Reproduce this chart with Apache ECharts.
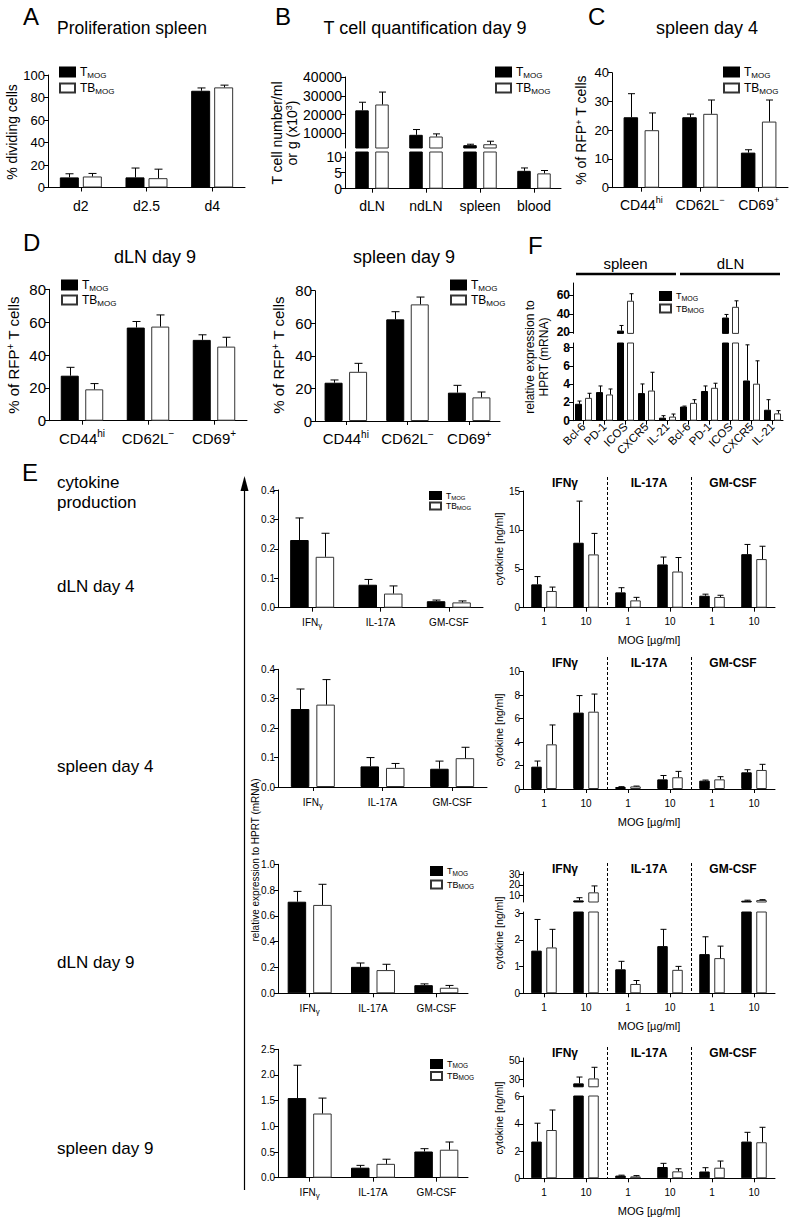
<!DOCTYPE html>
<html><head><meta charset="utf-8">
<script src="https://cdn.jsdelivr.net/npm/echarts@6/dist/echarts.min.js"></script>
<style>html,body{margin:0;padding:0;background:#fff}#c{width:789px;height:1219px}</style>
</head><body><div id="c"></div>
<script>
// ================= DATA =================
const A_categories = ['d2', 'd2.5', 'd4'];
const A_tmog = [9, 9, 86];
const A_tmog_err = [3.2, 8.3, 2.5];
const A_tbmog = [9.8, 8.3, 89];
const A_tbmog_err = [2.7, 8, 2];
const A_ticks = [0, 20, 40, 60, 80, 100];

const B_categories = ['dLN', 'ndLN', 'spleen', 'blood'];
const B_tmog = [22300, 9300, 3800, 5.6];
const B_tmog_err = [4300, 2800, 500, 0.9];
const B_tbmog = [25400, 8400, 4300, 4.8];
const B_tbmog_err = [6600, 1400, 1600, 0.9];
const B_upper_ticks = [10000, 20000, 30000, 40000];
const B_lower_ticks = [0, 5, 10];

const C_categories = ['CD44hi', 'CD62L-', 'CD69+'];
const C_tmog = [24.5, 24.5, 12.2];
const C_tmog_err = [8.2, 1.1, 1.0];
const C_tbmog = [20, 25.7, 23];
const C_tbmog_err = [6, 4.8, 7.5];

const D_categories = ['CD44hi', 'CD62L-', 'CD69+'];
const D_dLN_tmog = [27.4, 56.7, 49.2];
const D_dLN_tmog_err = [5.1, 3.7, 3.1];
const D_dLN_tbmog = [19.1, 57.3, 45.1];
const D_dLN_tbmog_err = [3.5, 7.1, 5.7];
const D_spleen_tmog = [23.5, 62.4, 17.4];
const D_spleen_tmog_err = [1.7, 4.7, 4.5];
const D_spleen_tbmog = [30.2, 71.6, 14.5];
const D_spleen_tbmog_err = [5.2, 4.5, 3.3];

const F_categories = ['Bcl-6', 'PD-1', 'ICOS', 'CXCR5', 'IL-21', 'Bcl-6', 'PD-1', 'ICOS', 'CXCR5', 'IL-21'];
const F_tmog = [1.85, 3.13, 22, 3.02, 0.33, 1.55, 3.25, 36, 4.4, 1.2];
const F_tmog_err = [0.3, 0.67, 5.5, 1.0, 0.22, 0.05, 0.55, 3.3, 3.9, 1.1];
const F_tbmog = [2.5, 2.87, 54, 3.3, 0.45, 1.95, 3.6, 47.5, 4.05, 0.8];
const F_tbmog_err = [0.5, 0.6, 7.5, 2.0, 0.28, 0.35, 0.5, 6.4, 2.5, 0.3];
const F_upper_ticks = [20, 40, 60];
const F_lower_ticks = [0, 2, 4, 6, 8];
const F_groups = ['spleen', 'dLN'];

const E_left_categories = ['IFNγ', 'IL-17A', 'GM-CSF'];
const E_dLN4_tmog = [0.23, 0.078, 0.022];
const E_dLN4_tmog_err = [0.075, 0.018, 0.004];
const E_dLN4_tbmog = [0.173, 0.048, 0.018];
const E_dLN4_tbmog_err = [0.08, 0.026, 0.005];
const E_spl4_tmog = [0.265, 0.07, 0.062];
const E_spl4_tmog_err = [0.068, 0.03, 0.026];
const E_spl4_tbmog = [0.28, 0.065, 0.098];
const E_spl4_tbmog_err = [0.085, 0.015, 0.037];
const E_dLN9_tmog = [0.71, 0.205, 0.063];
const E_dLN9_tmog_err = [0.08, 0.03, 0.01];
const E_dLN9_tbmog = [0.685, 0.18, 0.043];
const E_dLN9_tbmog_err = [0.16, 0.045, 0.018];
const E_spl9_tmog = [1.55, 0.195, 0.51];
const E_spl9_tmog_err = [0.64, 0.045, 0.055];
const E_spl9_tbmog = [1.25, 0.27, 0.545];
const E_spl9_tbmog_err = [0.3, 0.09, 0.15];

const E_right_categories = ['1', '10', '1', '10', '1', '10'];
const E_groups = ['IFNγ', 'IL-17A', 'GM-CSF'];
const E_cyt_dLN4_tmog = [3.0, 8.35, 1.97, 5.56, 1.54, 6.88];
const E_cyt_dLN4_tmog_err = [1.0, 5.35, 0.6, 0.95, 0.2, 1.25];
const E_cyt_dLN4_tbmog = [2.15, 6.85, 0.94, 4.65, 1.38, 6.25];
const E_cyt_dLN4_tbmog_err = [0.5, 2.7, 0.39, 1.8, 0.22, 1.65];
const E_cyt_spl4_tmog = [1.9, 6.5, 0.17, 0.82, 0.71, 1.42];
const E_cyt_spl4_tmog_err = [0.48, 1.45, 0.03, 0.33, 0.05, 0.22];
const E_cyt_spl4_tbmog = [3.8, 6.58, 0.22, 1.0, 0.82, 1.62];
const E_cyt_spl4_tbmog_err = [1.65, 1.5, 0.03, 0.5, 0.23, 0.48];
const E_cyt_dLN9_tmog = [1.6, 5.5, 0.9, 1.77, 1.47, 5.2];
const E_cyt_dLN9_tmog_err = [1.17, 2.5, 0.3, 0.63, 0.65, 0.5];
const E_cyt_dLN9_tbmog = [1.72, 13, 0.35, 0.88, 1.32, 5.8];
const E_cyt_dLN9_tbmog_err = [0.68, 6, 0.13, 0.13, 0.45, 0.4];
const E_cyt_spl9_tmog = [2.7, 25.7, 0.2, 0.83, 0.5, 2.7];
const E_cyt_spl9_tmog_err = [1.35, 6.8, 0.03, 0.27, 0.28, 0.68];
const E_cyt_spl9_tbmog = [3.55, 31, 0.14, 0.51, 0.78, 2.65];
const E_cyt_spl9_tbmog_err = [1.47, 12, 0.06, 0.19, 0.49, 1.1];
const E_cyt_dLN9_upper_ticks = [10, 20, 30];
const E_cyt_dLN9_lower_ticks = [0, 1, 2, 3];
const E_cyt_spl9_upper_ticks = [30, 50];
const E_cyt_spl9_lower_ticks = [0, 2, 4, 6];

// ================= BUILD =================
const FONT = "'Liberation Sans', Arial, Helvetica, sans-serif";
const option = {
  animation: false, backgroundColor: '#ffffff',
  textStyle: {fontFamily: FONT, color: '#000'},
  grid: [], xAxis: [], yAxis: [], series: [], legend: [], graphic: []
};

function richCat(s) {
  const m = s.match(/^(CD\d+L?)(hi|-|\+)$/);
  if (m) return '{m|' + m[1] + '}{s|' + (m[2] === '-' ? '−' : m[2]) + '}';
  if (s.indexOf('γ') >= 0) return '{m|' + s.replace('γ', '') + '}{g|γ}';
  return '{m|' + s + '}';
}

function addErr(ai, vals, errs, offset, cap, min, max) {
  const data = [];
  vals.forEach((v, i) => { if (v >= min && v <= max) data.push([i, v, v + errs[i]]); });
  option.series.push({
    type: 'custom', name: 'err', xAxisIndex: ai, yAxisIndex: ai, silent: true, clip: true, z: 3,
    data: data, encode: {x: 0, y: [1, 2]},
    renderItem: function (params, api) {
      const i = api.value(0);
      const a = api.coord([i, api.value(1)]);
      const b = api.coord([i, api.value(2)]);
      const x = Math.round(a[0] + offset) + 0.5;
      return {type: 'group', children: [
        {type: 'line', shape: {x1: x, y1: a[1], x2: x, y2: b[1]}, style: {stroke: '#000', lineWidth: 1}},
        {type: 'line', shape: {x1: x - cap / 2, y1: b[1], x2: x + cap / 2, y2: b[1]}, style: {stroke: '#000', lineWidth: 1}}
      ]};
    }
  });
}

// c: gl, gt, gw, gh (grid rect); cats; tv/tve (T_MOG), bv/bve (TB_MOG)
function addPanel(c) {
  const gi = option.grid.length;
  option.grid.push({left: c.gl, top: c.gt, width: c.gw, height: c.gh, containLabel: false, outerBoundsMode: 'none', show: false});
  const xs = c.xShow !== false;
  const xfs = c.xfs || 14;
  const sfs = Math.round(xfs * 0.65);
  option.xAxis.push({
    type: 'category', gridIndex: gi, data: c.cats, boundaryGap: true,
    axisLine: {show: xs, onZero: false, lineStyle: {color: '#000', width: 1}},
    axisTick: {show: xs, alignWithLabel: true, length: 4, lineStyle: {color: '#000', width: 1}},
    axisLabel: {show: xs, interval: 0, margin: c.xMargin || 8, rotate: c.xRotate || 0, color: '#000',
      fontSize: xfs, fontFamily: FONT, formatter: richCat,
      rich: {
        m: {fontSize: xfs, fontFamily: FONT, color: '#000', lineHeight: xfs + 4},
        s: {fontSize: sfs, fontFamily: FONT, color: '#000', verticalAlign: 'top', lineHeight: sfs + 1},
        g: {fontSize: Math.round(xfs * 0.8), fontFamily: FONT, color: '#000', verticalAlign: 'bottom', lineHeight: xfs}
      }},
    splitLine: {show: false},
    name: c.xName || '', nameLocation: 'middle', nameGap: c.xNameGap || 25,
    nameTextStyle: {fontSize: c.xNameFs || 11, fontFamily: FONT, color: '#000'}
  });
  const yfs = c.yfs || 14;
  const ya = {
    type: 'value', gridIndex: gi, min: c.min, max: c.max,
    axisLine: {show: true, lineStyle: {color: '#000', width: 1}},
    axisTick: {show: true, length: 4, lineStyle: {color: '#000', width: 1}},
    axisLabel: {fontSize: yfs, fontFamily: FONT, color: '#000', margin: 3,
      fontWeight: c.yBold ? 'bold' : 'normal', formatter: c.yFmt || (v => String(v))},
    splitLine: {show: false}
  };
  if (c.interval) ya.interval = c.interval;
  if (c.ticks) { ya.axisLabel.customValues = c.ticks; ya.axisTick.customValues = c.ticks; }
  option.yAxis.push(ya);
  const ai = option.xAxis.length - 1;
  const off = (c.bw + c.gap) / 2;
  const barGap = (c.gap / c.bw * 100).toFixed(1) + '%';
  option.series.push({type: 'bar', name: 'TMOG', xAxisIndex: ai, yAxisIndex: ai, data: c.tv,
    barWidth: c.bw, barGap: barGap, clip: true, silent: true, z: 2,
    itemStyle: {color: '#000', borderColor: '#000', borderWidth: 1}});
  option.series.push({type: 'bar', name: 'TBMOG', xAxisIndex: ai, yAxisIndex: ai, data: c.bv,
    barWidth: c.bw, barGap: barGap, clip: true, silent: true, z: 2,
    itemStyle: {color: '#fff', borderColor: '#333', borderWidth: 1}});
  addErr(ai, c.tv, c.tve, -off, c.cap, c.min, c.max);
  addErr(ai, c.bv, c.bve, off, c.cap, c.min, c.max);
  return ai;
}

function addLegend(left, top, s) {
  option.legend.push({
    data: ['TMOG', 'TBMOG'], orient: 'vertical', left: left, top: top, padding: 0,
    itemWidth: s.iw, itemHeight: s.ih, itemGap: s.gap, icon: 'rect', selectedMode: false,
    formatter: n => n === 'TMOG' ? '{a|T}{b|MOG}' : '{a|TB}{b|MOG}',
    textStyle: {rich: {
      a: {fontSize: s.fs, fontFamily: FONT, color: '#000', lineHeight: s.lh},
      b: {fontSize: s.sub, fontFamily: FONT, color: '#000', lineHeight: s.sub + 1, verticalAlign: 'bottom'}
    }}
  });
}

function txt(x, y, text, o) {
  o = o || {};
  option.graphic.push({type: 'text', x: x, y: y, rotation: o.rot || 0, silent: true, z: 10,
    style: {text: text, fill: '#000', fontSize: o.size || 14, fontFamily: FONT,
      fontWeight: o.bold ? 'bold' : 'normal', align: o.align || 'center', verticalAlign: 'middle',
      lineHeight: o.lh, rich: o.rich}});
}
function line(x1, y1, x2, y2, w, dash) {
  option.graphic.push({type: 'line', silent: true, shape: {x1, y1, x2, y2},
    style: {stroke: '#000', lineWidth: w || 1, lineDash: dash || null}});
}
const ROT = Math.PI / 2;
const supRich = fs => ({sup: {fontSize: fs, fontFamily: FONT, color: '#000', verticalAlign: 'top', lineHeight: fs + 1}});

// ---------- Panel A ----------
addPanel({gl: 48, gt: 75, gw: 197, gh: 112.5, cats: A_categories, tv: A_tmog, tve: A_tmog_err, bv: A_tbmog, bve: A_tbmog_err,
  min: 0, max: 100, ticks: A_ticks, bw: 19, gap: 4, cap: 8, xfs: 14, yfs: 13, xMargin: 9});
addLegend(59, 66, {iw: 15, ih: 9, gap: 3, fs: 12, sub: 8, lh: 14});
txt(23, 16, 'A', {size: 24, align: 'left'});
txt(132, 28, 'Proliferation spleen', {size: 17.5});
txt(12, 132, '% dividing cells', {size: 14, rot: ROT});

// ---------- Panel B ----------
addPanel({gl: 345, gt: 77, gw: 216, gh: 71, cats: B_categories, tv: B_tmog, tve: B_tmog_err, bv: B_tbmog, bve: B_tbmog_err,
  min: 2300, max: 40000, ticks: B_upper_ticks, xShow: false, bw: 13.5, gap: 6.5, cap: 7, yfs: 14});
addPanel({gl: 345, gt: 152, gw: 216, gh: 36.7, cats: B_categories, tv: B_tmog, tve: B_tmog_err, bv: B_tbmog, bve: B_tbmog_err,
  min: 0, max: 11.5, ticks: B_lower_ticks, bw: 13.5, gap: 6.5, cap: 7, yfs: 14, xfs: 14, xMargin: 8});
addLegend(495, 66, {iw: 15, ih: 9, gap: 3, fs: 12, sub: 8, lh: 14});
txt(275, 16, 'B', {size: 24, align: 'left'});
txt(425, 28, 'T cell quantification day 9', {size: 18});
txt(284, 133, 'T cell number/ml\nor g (x10{sup|3})', {size: 14, rot: ROT, lh: 15, rich: supRich(9)});

// ---------- Panel C ----------
addPanel({gl: 612, gt: 72.7, gw: 176, gh: 115, cats: C_categories, tv: C_tmog, tve: C_tmog_err, bv: C_tbmog, bve: C_tbmog_err,
  min: 0, max: 40, interval: 10, bw: 14.5, gap: 6.5, cap: 7, yfs: 13, xfs: 14, xMargin: 8});
addLegend(723, 66, {iw: 15, ih: 9, gap: 3, fs: 12, sub: 8, lh: 14});
txt(588, 16, 'C', {size: 24, align: 'left'});
txt(707, 28, 'spleen day 4', {size: 18});
txt(581, 130, '% of RFP{sup|+} T cells', {size: 14, rot: ROT, rich: supRich(9)});

// ---------- Panel D ----------
addPanel({gl: 49, gt: 289.3, gw: 198, gh: 131.4, cats: D_categories, tv: D_dLN_tmog, tve: D_dLN_tmog_err, bv: D_dLN_tbmog, bve: D_dLN_tbmog_err,
  min: 0, max: 80, interval: 20, bw: 18, gap: 6.5, cap: 8, yfs: 15, xfs: 15, xMargin: 8});
addPanel({gl: 315, gt: 290.7, gw: 185, gh: 130.3, cats: D_categories, tv: D_spleen_tmog, tve: D_spleen_tmog_err, bv: D_spleen_tbmog, bve: D_spleen_tbmog_err,
  min: 0, max: 80, interval: 20, bw: 18, gap: 6.5, cap: 8, yfs: 15, xfs: 15, xMargin: 8});
addLegend(61, 279, {iw: 15, ih: 9, gap: 2, fs: 12, sub: 8, lh: 14});
addLegend(450, 279, {iw: 15, ih: 9, gap: 2, fs: 12, sub: 8, lh: 14});
txt(23, 242, 'D', {size: 24, align: 'left'});
txt(155, 257, 'dLN day 9', {size: 18});
txt(404, 257, 'spleen day 9', {size: 18});
txt(13, 355, '% of RFP{sup|+} T cells', {size: 15, rot: ROT, rich: supRich(10)});
txt(278, 355, '% of RFP{sup|+} T cells', {size: 15, rot: ROT, rich: supRich(10)});

// ---------- Panel F ----------
const F_l = 573, F_w = 210;
addPanel({gl: F_l, gt: 283, gw: F_w, gh: 50.4, cats: F_categories, tv: F_tmog, tve: F_tmog_err, bv: F_tbmog, bve: F_tbmog_err,
  min: 19, max: 73, ticks: F_upper_ticks, xShow: false, bw: 7, gap: 3, cap: 4, yfs: 12, yBold: true});
addPanel({gl: F_l, gt: 343, gw: F_w, gh: 77.7, cats: F_categories, tv: F_tmog, tve: F_tmog_err, bv: F_tbmog, bve: F_tbmog_err,
  min: 0, max: 8.5, ticks: F_lower_ticks, bw: 7, gap: 3, cap: 4, yfs: 12, yBold: true, xfs: 11.5, xRotate: 45, xMargin: 4});
addLegend(659, 291, {iw: 11, ih: 8, gap: 2, fs: 9, sub: 7, lh: 11});
txt(528, 245, 'F', {size: 24, align: 'left'});
const F_cw = F_w / F_categories.length;
txt(F_l + 2.5 * F_cw, 263, F_groups[0], {size: 15});
txt(F_l + 7.5 * F_cw, 263, F_groups[1], {size: 15});
line(F_l + 3, 274, F_l + 5 * F_cw - 2, 274, 2.5);
line(F_l + 5 * F_cw + 2, 274, F_l + 10 * F_cw - 3, 274, 2.5);
txt(537, 357, 'relative expression to\nHPRT (mRNA)', {size: 12, rot: ROT, lh: 14});

// ---------- Panel E (left) ----------
const fmt1 = v => v.toFixed(1);
const EL = {bw: 18.5, gap: 7, cap: 8, yfs: 10, xfs: 10, xMargin: 8, yFmt: fmt1};
addPanel(Object.assign({gl: 278, gt: 490, gw: 205, gh: 117.7, cats: E_left_categories, tv: E_dLN4_tmog, tve: E_dLN4_tmog_err,
  bv: E_dLN4_tbmog, bve: E_dLN4_tbmog_err, min: 0, max: 0.4, interval: 0.1}, EL));
addPanel(Object.assign({gl: 278, gt: 669.3, gw: 209, gh: 117.7, cats: E_left_categories, tv: E_spl4_tmog, tve: E_spl4_tmog_err,
  bv: E_spl4_tbmog, bve: E_spl4_tbmog_err, min: 0, max: 0.4, interval: 0.1}, EL));
addPanel(Object.assign({gl: 278, gt: 864.3, gw: 190, gh: 129, cats: E_left_categories, tv: E_dLN9_tmog, tve: E_dLN9_tmog_err,
  bv: E_dLN9_tbmog, bve: E_dLN9_tbmog_err, min: 0, max: 1.0, interval: 0.2}, EL));
addPanel(Object.assign({gl: 278, gt: 1049.3, gw: 190, gh: 128.4, cats: E_left_categories, tv: E_spl9_tmog, tve: E_spl9_tmog_err,
  bv: E_spl9_tbmog, bve: E_spl9_tbmog_err, min: 0, max: 2.5, interval: 0.5}, EL));
addLegend(429, 491, {iw: 11, ih: 7, gap: 1, fs: 8.5, sub: 6, lh: 10});
addLegend(430, 866, {iw: 11, ih: 8, gap: 3, fs: 9, sub: 6.5, lh: 11});
addLegend(430, 1059, {iw: 11, ih: 8, gap: 2, fs: 9, sub: 6.5, lh: 10});

// ---------- Panel E (right) ----------
const ER_l = 523, ER_w = 252;
const ER = {bw: 10.5, gap: 4.5, cap: 6, yfs: 10, xfs: 10, xMargin: 7, xName: 'MOG [µg/ml]', xNameGap: 27, xNameFs: 11};
addPanel(Object.assign({gl: ER_l, gt: 491, gw: ER_w, gh: 116.7, cats: E_right_categories, tv: E_cyt_dLN4_tmog, tve: E_cyt_dLN4_tmog_err,
  bv: E_cyt_dLN4_tbmog, bve: E_cyt_dLN4_tbmog_err, min: 0, max: 15, interval: 5}, ER));
addPanel(Object.assign({gl: ER_l, gt: 671.5, gw: ER_w, gh: 117.5, cats: E_right_categories, tv: E_cyt_spl4_tmog, tve: E_cyt_spl4_tmog_err,
  bv: E_cyt_spl4_tbmog, bve: E_cyt_spl4_tbmog_err, min: 0, max: 10, interval: 2}, ER));
addPanel(Object.assign({}, ER, {gl: ER_l, gt: 872, gw: ER_w, gh: 30, cats: E_right_categories, tv: E_cyt_dLN9_tmog, tve: E_cyt_dLN9_tmog_err,
  bv: E_cyt_dLN9_tbmog, bve: E_cyt_dLN9_tbmog_err, min: 4, max: 32, ticks: E_cyt_dLN9_upper_ticks, xShow: false, xName: ''}));
addPanel(Object.assign({gl: ER_l, gt: 912, gw: ER_w, gh: 81.3, cats: E_right_categories, tv: E_cyt_dLN9_tmog, tve: E_cyt_dLN9_tmog_err,
  bv: E_cyt_dLN9_tbmog, bve: E_cyt_dLN9_tbmog_err, min: 0, max: 3.05, ticks: E_cyt_dLN9_lower_ticks}, ER));
addPanel(Object.assign({}, ER, {gl: ER_l, gt: 1058, gw: ER_w, gh: 28.8, cats: E_right_categories, tv: E_cyt_spl9_tmog, tve: E_cyt_spl9_tmog_err,
  bv: E_cyt_spl9_tbmog, bve: E_cyt_spl9_tbmog_err, min: 22, max: 53, ticks: E_cyt_spl9_upper_ticks, xShow: false, xName: ''}));
addPanel(Object.assign({gl: ER_l, gt: 1096, gw: ER_w, gh: 82.3, cats: E_right_categories, tv: E_cyt_spl9_tmog, tve: E_cyt_spl9_tmog_err,
  bv: E_cyt_spl9_tbmog, bve: E_cyt_spl9_tbmog_err, min: 0, max: 6.05, ticks: E_cyt_spl9_lower_ticks}, ER));

const ER_rows = [{title: 483, bottom: 607.7, ylab: 549}, {title: 663, bottom: 789, ylab: 730},
                 {title: 869, bottom: 993.3, ylab: 933}, {title: 1053, bottom: 1178.3, ylab: 1118}];
ER_rows.forEach(r => {
  E_groups.forEach((g, k) => txt(ER_l + ER_w * (2 * k + 1) / 6, r.title, g, {size: 12, bold: true}));
  line(ER_l + ER_w * 2 / 6 + 0.5, r.title - 6, ER_l + ER_w * 2 / 6 + 0.5, r.bottom, 1, [3, 2]);
  line(ER_l + ER_w * 4 / 6 + 0.5, r.title - 6, ER_l + ER_w * 4 / 6 + 0.5, r.bottom, 1, [3, 2]);
  txt(499, r.ylab, 'cytokine [ng/ml]', {size: 10.5, rot: ROT});
});

// ---------- Panel E labels ----------
txt(22, 472, 'E', {size: 24, align: 'left'});
txt(57, 482, 'cytokine', {size: 17, align: 'left'});
txt(57, 502, 'production', {size: 17, align: 'left'});
txt(57, 586, 'dLN day 4', {size: 17, align: 'left'});
txt(57, 766, 'spleen day 4', {size: 17, align: 'left'});
txt(57, 962, 'dLN day 9', {size: 17, align: 'left'});
txt(57, 1148, 'spleen day 9', {size: 17, align: 'left'});
line(244.5, 1190, 244.5, 488, 1.2);
option.graphic.push({type: 'polygon', silent: true, shape: {points: [[244.5, 476], [240.5, 491], [248.5, 491]]}, style: {fill: '#000'}});
txt(255, 860, 'relative expression to HPRT (mRNA)', {size: 10, rot: ROT});

const chart = echarts.init(document.getElementById('c'), null, {renderer: 'svg', width: 789, height: 1219});
chart.setOption(option);
</script>
</body></html>
